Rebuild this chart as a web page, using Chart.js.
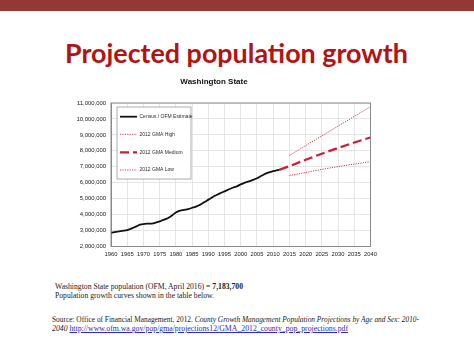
<!DOCTYPE html>
<html><head><meta charset="utf-8">
<script src="https://cdn.jsdelivr.net/npm/chart.js@4"></script>
<style>
html,body{margin:0;padding:0;background:#fff;width:474px;height:355px;overflow:hidden;position:relative;}
#band{position:absolute;left:0;top:0;width:474px;height:11px;background:#953735;}
.t{position:absolute;white-space:nowrap;transform-origin:0 50%;}
#title{font-family:Lato,"Open Sans",sans-serif;font-weight:bold;font-size:27px;color:#B01414;left:65px;top:38px;line-height:30px;height:30px;}
.s{font-family:"Liberation Serif",serif;font-size:7.4px;color:#1a1a1a;line-height:9px;height:9px;}
a{color:#2b2bbf;text-decoration:underline;}
#cv{position:absolute;left:40px;top:72px;}
</style></head>
<body>
<div id="band"></div>
<div id="title" class="t" data-w="343">Projected population growth</div>
<canvas id="cv" width="360" height="192"></canvas>
<div class="t s" data-w="188" style="left:55px;top:282px;">Washington State population (OFM, April 2016) = <b>7,183,700</b></div>
<div class="t s" data-w="159" style="left:55px;top:291px;">Population growth curves shown in the table below.</div>
<div class="t s" data-w="367" style="left:52px;top:314.5px;">Source: Office of Financial Management, 2012. <i>County Growth Management Population Projections by Age and Sex: 2010-</i></div>
<div class="t s" data-w="296" style="left:52px;top:324px;"><i>2040</i> <a>http://www.ofm.wa.gov/pop/gma/projections12/GMA_2012_county_pop_projections.pdf</a></div>
<script>
// ---- data ----
const histYears = [1960,1961,1962,1963,1964,1965,1966,1967,1968,1969,1970,1971,1972,1973,1974,1975,1976,1977,1978,1979,1980,1981,1982,1983,1984,1985,1986,1987,1988,1989,1990,1991,1992,1993,1994,1995,1996,1997,1998,1999,2000,2001,2002,2003,2004,2005,2006,2007,2008,2009,2010,2011,2012];
const histPop = [2853000,2900000,2940000,2970000,2990000,3030000,3100000,3190000,3280000,3370000,3410000,3430000,3430000,3450000,3510000,3580000,3650000,3730000,3840000,3980000,4130000,4230000,4280000,4310000,4360000,4430000,4490000,4570000,4680000,4800000,4940000,5060000,5180000,5280000,5370000,5460000,5550000,5640000,5720000,5790000,5900000,5980000,6050000,6120000,6190000,6280000,6390000,6500000,6600000,6670000,6720000,6770000,6820000];
const medYears = [2012,2015,2020,2025,2030,2035,2040];
const medPop = [6820000,7040000,7440000,7820000,8180000,8520000,8840000];
const projYears = [2015,2020,2025,2030,2035,2040];
const highPop = [7710000,8330000,8940000,9550000,10160000,10770000];
const lowPop = [6450000,6640000,6840000,7010000,7170000,7320000];
const seriesLabels = ['Census / OFM Estimate','2012 GMA High','2012 GMA Medium','2012 GMA Low'];
const chartTitle = 'Washington State';

const pts = (xs, ys) => xs.map((x,i)=>({x:x,y:ys[i]}));

// fit text lines to measured widths
document.querySelectorAll('.t').forEach(el=>{
  const w = parseFloat(el.dataset.w);
  const r = el.getBoundingClientRect().width;
  if (w && r) el.style.transform = 'scaleX(' + (w/r) + ')';
});

const legendBox = {
  id:'legendBox',
  afterDraw(chart){
    const ctx = chart.ctx, a = chart.chartArea;
    const bx = a.left + 6, by = a.top + 4, bw = 74, bh = 72;
    ctx.save();
    ctx.fillStyle = '#fff';
    ctx.fillRect(bx, by, bw, bh);
    ctx.strokeStyle = '#9a9a9a';
    ctx.lineWidth = 0.8;
    ctx.strokeRect(bx, by, bw, bh);
    const rows = [9.7, 27.3, 45.3, 63];
    chart.data.datasets.forEach((ds,i)=>{
      const y = by + rows[i];
      ctx.beginPath();
      ctx.strokeStyle = ds.borderColor;
      ctx.lineWidth = ds.borderWidth;
      ctx.setLineDash(ds.borderDash || []);
      ctx.moveTo(bx + 3, y);
      ctx.lineTo(bx + 20, y);
      ctx.stroke();
      ctx.setLineDash([]);
      ctx.fillStyle = '#2a2a2a';
      ctx.font = '5px "Liberation Sans", Arial, sans-serif';
      ctx.textBaseline = 'middle';
      ctx.textAlign = 'left';
      ctx.fillText(ds.label, bx + 22.5, y);
    });
    ctx.restore();
  }
};

new Chart(document.getElementById('cv'), {
  type:'line',
  data:{
    datasets:[
      {label:seriesLabels[0], data:pts(histYears,histPop), borderColor:'#111', borderWidth:1.8, pointRadius:0, tension:0.2},
      {label:seriesLabels[1], data:pts(projYears,highPop), borderColor:'#d23a50', borderWidth:1, borderDash:[1.2,1.2], pointRadius:0},
      {label:seriesLabels[2], data:pts(medYears,medPop), borderColor:'#d21c30', borderWidth:2.2, borderDash:[9,4], pointRadius:0},
      {label:seriesLabels[3], data:pts(projYears,lowPop), borderColor:'#d23a50', borderWidth:1, borderDash:[1.2,1.2], pointRadius:0}
    ]
  },
  options:{
    responsive:false, animation:false, devicePixelRatio:1,
    layout:{padding:{left:17.5, right:29.5, top:0, bottom:0}},
    plugins:{
      legend:{display:false},
      tooltip:{enabled:false},
      title:{display:true, text:chartTitle, color:'#111',
        font:{family:'"Liberation Sans", Arial, sans-serif', size:8, weight:'bold'},
        padding:{top:5.2, bottom:16.2}}
    },
    scales:{
      x:{type:'linear', min:1960, max:2040,
        afterFit:s=>{s.height=17.5;},
        ticks:{stepSize:5, padding:4, color:'#222', font:{family:'"Liberation Sans", Arial, sans-serif', size:5.8}, callback:v=>String(v), maxRotation:0, autoSkip:false},
        grid:{color:'#e0e0e0', lineWidth:0.8, drawTicks:false},
        border:{color:'#8a8a8a', width:1}
      },
      y:{min:2000000, max:11000000,
        afterFit:s=>{s.width=53.5;},
        ticks:{stepSize:1000000, padding:5, color:'#222', font:{family:'"Liberation Sans", Arial, sans-serif', size:5.9}, callback:v=>v.toLocaleString('en-US')},
        grid:{color:'#e0e0e0', lineWidth:0.8, drawTicks:false},
        border:{color:'#8a8a8a', width:1}
      }
    }
  },
  plugins:[legendBox, {id:'frame', afterDraw(c){const x=c.ctx,a=c.chartArea;x.save();x.strokeStyle='#8a8a8a';x.lineWidth=1;x.strokeRect(a.left,a.top,a.right-a.left,a.bottom-a.top);x.restore();}}]
});
</script>
</body></html>
